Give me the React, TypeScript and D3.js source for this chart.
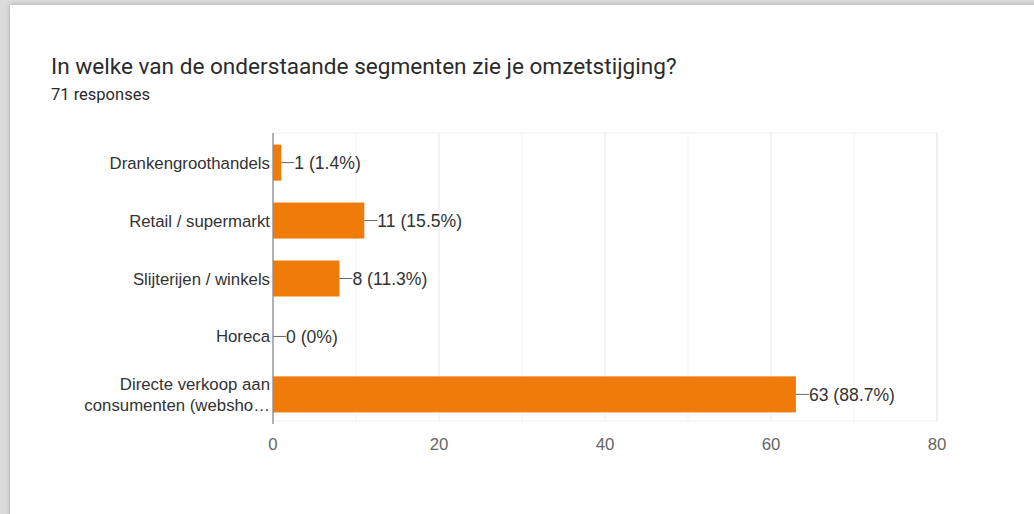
import React from "react";
import { scaleLinear, scaleBand, range } from "d3";

// data
const categories = [
  "Drankengroothandels",
  "Retail / supermarkt",
  "Slijterijen / winkels",
  "Horeca",
  "Directe verkoop aan\nconsumenten (websho…",
];
const counts = [1, 11, 8, 0, 63];
const responses = 71;
const xTicks = [0, 20, 40, 60, 80];

const W = 1034;
const H = 514;
const plot = { left: 273, right: 937, top: 133, bottom: 424 };

const pct = (v: number) => {
  const p = Math.round((v / responses) * 1000) / 10;
  return `${v} (${p % 1 === 0 ? p.toFixed(0) : p.toFixed(1)}%)`;
};

export default function App() {
  const x = scaleLinear().domain([0, 80]).range([plot.left, plot.right]);
  const y = scaleBand()
    .domain(categories)
    .range([plot.top, plot.bottom])
    .paddingInner(0.378)
    .paddingOuter(0.2);

  const labelFont = "Arial, 'Liberation Sans', sans-serif";
  const fs = 16.8;

  return (
    <div style={{ position: "fixed", left: 0, top: 0 }}>
      <svg width={W} height={H}>
        <defs>
          <filter id="shadow" x="-5%" y="-5%" width="110%" height="110%">
            <feDropShadow dx="0" dy="0" stdDeviation="2.5" floodColor="#000" floodOpacity="0.25" />
          </filter>
        </defs>
        <rect width={W} height={H} fill="#dcdcdc" />
        <rect x={10} y={5} width={W + 20} height={H + 20} fill="#fff" filter="url(#shadow)" />

        <text x={51} y={74} fontFamily="Roboto, 'Noto Sans', sans-serif" fontSize={22.6} fill="#2b2b2b">
          In welke van de onderstaande segmenten zie je omzetstijging?
        </text>
        <text x={51} y={100} fontFamily="Roboto, 'Noto Sans', sans-serif" fontSize={16.5} fill="#2b2b2b">
          {responses} responses
        </text>

        {/* grid */}
        <rect
          x={plot.left}
          y={plot.top}
          width={plot.right - plot.left}
          height={plot.bottom - plot.top - 3}
          fill="none"
          stroke="#f0f0f0"
        />
        {range(10, 81, 10).map((t) => (
          <line
            key={t}
            x1={x(t)}
            x2={x(t)}
            y1={plot.top}
            y2={plot.bottom - 3}
            stroke={t % 20 === 0 ? "#e8e8e8" : "#f3f3f3"}
          />
        ))}

        {/* bars */}
        {categories.map((c, i) => {
          const yy = y(c)!;
          const cy = yy + y.bandwidth() / 2;
          const end = x(counts[i]);
          return (
            <g key={c}>
              {counts[i] > 0 && (
                <rect x={x(0)} y={yy} width={end - x(0)} height={y.bandwidth()} fill="#ef7b0b" />
              )}
              <line x1={end} x2={end + 13} y1={cy} y2={cy} stroke="#666" />
              <text
                x={end + 13}
                y={cy}
                dy="0.36em"
                fontFamily={labelFont}
                fontSize={17.6}
                fill="#333"
              >
                {pct(counts[i])}
              </text>
              <text
                x={plot.left - 3}
                y={cy}
                textAnchor="end"
                fontFamily={labelFont}
                fontSize={fs}
                fill="#333"
              >
                {c.split("\n").map((ln, k, arr) => (
                  <tspan key={k} x={plot.left - 3} dy={k === 0 ? `${0.36 - (arr.length - 1) * 0.6}em` : "1.2em"}>
                    {ln}
                  </tspan>
                ))}
              </text>
            </g>
          );
        })}

        {/* axis */}
        <line x1={plot.left} x2={plot.left} y1={plot.top} y2={plot.bottom} stroke="#8c8c8c" strokeWidth={1.3} />
        {xTicks.map((t) => (
          <text
            key={t}
            x={x(t)}
            y={450}
            textAnchor="middle"
            fontFamily={labelFont}
            fontSize={fs}
            fill="#666"
          >
            {t}
          </text>
        ))}
      </svg>
    </div>
  );
}
